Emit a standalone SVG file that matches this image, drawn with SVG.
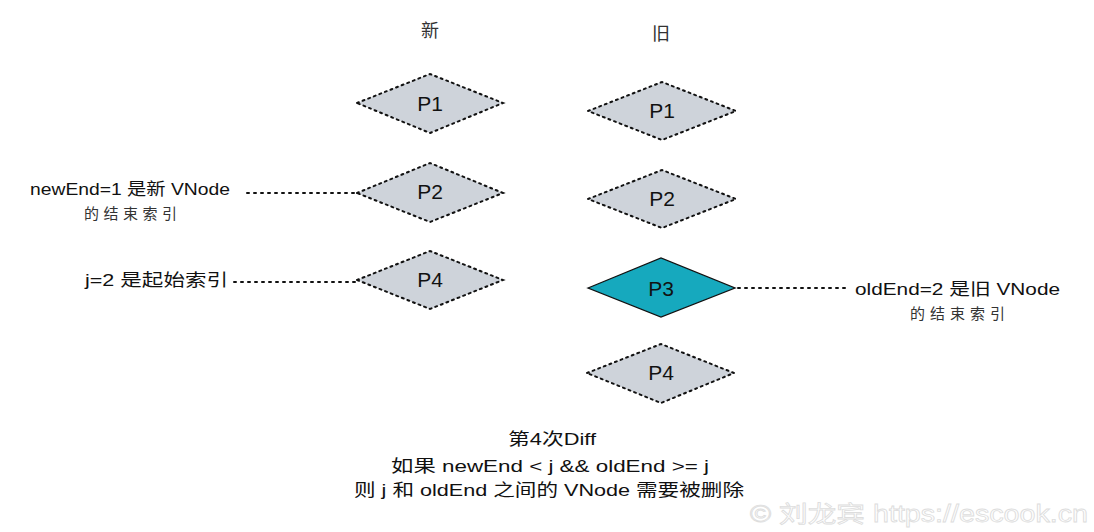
<svg xmlns="http://www.w3.org/2000/svg" width="1094" height="532" viewBox="0 0 1094 532">
<style>
.d{fill:#ced3da;stroke:#111;stroke-width:2;stroke-dasharray:2 4;stroke-linecap:round}
.hl{fill:#16a9be;stroke:#111;stroke-width:1.3}
.c{stroke:#111;stroke-width:2;stroke-dasharray:2 5;stroke-linecap:round;fill:none}
.lbl{font-family:"Liberation Sans","Noto Sans CJK SC",sans-serif;font-size:21px;fill:#111;text-anchor:middle}
.t{font-family:"Liberation Sans","Noto Sans CJK SC",sans-serif;font-size:17px;fill:#111}
.s{font-family:"Noto Sans CJK SC",sans-serif;font-size:15px;fill:#333}
.h{font-family:"Noto Sans CJK SC",sans-serif;font-size:18px;fill:#333;text-anchor:middle}
.wm{font-family:"Liberation Sans","Noto Sans CJK SC",sans-serif;font-size:23px;fill:#fff;stroke:#ddd;stroke-width:0.8}
</style>
<text class="h" x="430" y="37">新</text>
<text class="h" x="661" y="40">旧</text>
<g id="connectors">
<line class="c" x1="247" y1="193" x2="357" y2="193"/>
<line class="c" x1="234" y1="282" x2="357" y2="282"/>
<line class="c" x1="738" y1="288" x2="850" y2="288"/>
</g>
<g id="newP1"><polygon class="d" points="357,103 430,74 503,103 430,133"/><text class="lbl" x="430" y="111">P1</text></g>
<g id="newP2"><polygon class="d" points="357,193 430,163 503,193 430,222"/><text class="lbl" x="430" y="199">P2</text></g>
<g id="newP4"><polygon class="d" points="357,280 430,251 503,280 430,309"/><text class="lbl" x="430" y="287">P4</text></g>
<g id="oldP1"><polygon class="d" points="588,111 662,82 736,111 662,140"/><text class="lbl" x="662" y="118">P1</text></g>
<g id="oldP2"><polygon class="d" points="588,199 662,170 736,199 662,228"/><text class="lbl" x="662" y="206">P2</text></g>
<g id="oldP3"><polygon class="hl" points="588,288 661,258 735,288 661,317"/><text class="lbl" x="661" y="296">P3</text></g>
<g id="oldP4"><polygon class="d" points="587,373 661,344 734,373 661,403"/><text class="lbl" x="661" y="380">P4</text></g>
<g id="newEndLabel">
<text class="t" x="30" y="195" textLength="200" lengthAdjust="spacingAndGlyphs">newEnd=1 是新 VNode</text>
<text class="s" x="84" y="219" textLength="93" lengthAdjust="spacing">的结束索引</text>
</g>
<g id="jLabel"><text class="t" x="85" y="286" textLength="143" lengthAdjust="spacingAndGlyphs">j=2 是起始索引</text></g>
<g id="oldEndLabel">
<text class="t" x="855" y="295" textLength="205" lengthAdjust="spacingAndGlyphs">oldEnd=2 是旧 VNode</text>
<text class="s" x="910" y="319" textLength="95" lengthAdjust="spacing">的结束索引</text>
</g>
<g id="caption">
<text class="t" x="508" y="445" font-size="16" textLength="88" lengthAdjust="spacingAndGlyphs">第4次Diff</text>
<text class="t" x="550" y="472" text-anchor="middle" textLength="318" lengthAdjust="spacingAndGlyphs">如果 newEnd &lt; j &amp;&amp; oldEnd &gt;= j</text>
<text class="t" x="549" y="496" text-anchor="middle" textLength="390" lengthAdjust="spacingAndGlyphs">则 j 和 oldEnd 之间的 VNode 需要被删除</text>
</g>
<text class="wm" x="750" y="522" textLength="338" lengthAdjust="spacingAndGlyphs">© 刘龙宾 https://escook.cn</text>
</svg>
